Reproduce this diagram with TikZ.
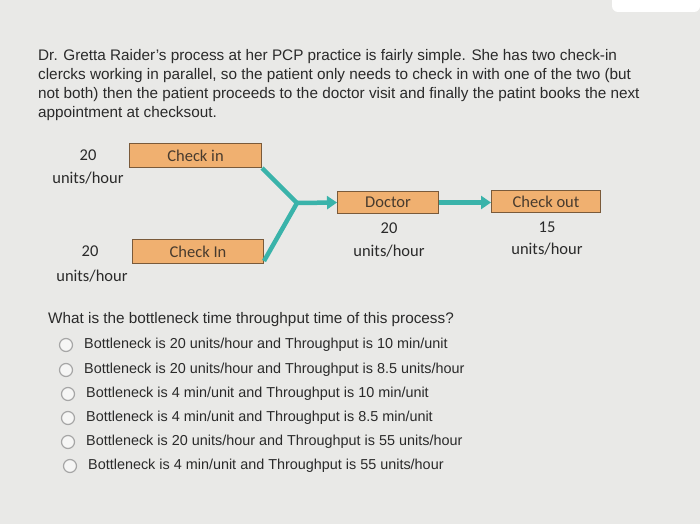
\documentclass[tikz,border=0pt]{standalone}
\usepackage{fontspec}
\setmainfont{Liberation Sans}
\newfontfamily\carlitofont{Carlito}
\usetikzlibrary{arrows.meta}
\definecolor{bg}{HTML}{E9E9E7}
\definecolor{boxfill}{HTML}{F0B070}
\definecolor{boxline}{HTML}{7A5A3A}
\definecolor{teal}{HTML}{3AB3AA}
\definecolor{txt}{HTML}{2A2A2A}
\tikzset{
  stagebox/.style={draw=boxline,fill=boxfill,line width=1pt,anchor=north west,inner sep=0pt,font=\carlitofont\fontsize{16.5}{18}\selectfont,text=txt!80!brown},
  rate/.style={font=\carlitofont\fontsize{16.5}{18}\selectfont,text=txt},
  para/.style={anchor=west,font=\fontsize{15.3}{17}\selectfont,text=txt,inner sep=0pt},
  opttext/.style={anchor=west,font=\fontsize{14.4}{17}\selectfont,text=txt,inner sep=0pt},
  flow/.style={teal,line width=4.5pt},
  opt/.style={draw=gray!70,line width=1.2pt,circle,minimum size=13pt,inner sep=0pt,fill=white!60!bg},
}
\begin{document}
\begin{tikzpicture}[x=1pt,y=-1pt]
\fill[bg] (0,0) rectangle (700,524);
\useasboundingbox (0,0) rectangle (700,524);
\fill[white,rounded corners=6pt] (612,-10) rectangle (700,12);
\node[para] (p1) at (38,57) {Dr. Gretta Raider's process at her PCP practice is fairly simple.  She has two check-in};
\node[para] (p2) at (38,76) {clercks working in parallel, so the patient only needs to check in with one of the two (but};
\node[para] (p3) at (38,95) {not both) then the patient proceeds to the doctor visit and finally the patint books the next};
\node[para] (p4) at (38,114) {appointment at checksout.};
\node[stagebox,minimum width=132pt,minimum height=24pt] (c1) at (129,143) {Check in};
\node[stagebox,minimum width=131pt,minimum height=24pt] (c2) at (132,239) {Check In};
\node[stagebox,minimum width=101pt,minimum height=22pt] (doc) at (337,191) {Doctor};
\node[stagebox,minimum width=109pt,minimum height=22pt] (co) at (491,190) {Check out};
\coordinate (j) at (297,203);
\draw[flow] (c1.south east) -- (j) -- (c2.east |- 0,261);
\draw[flow,-{Triangle[length=10pt,width=13pt]}] (j) -- (doc.west);
\draw[flow,-{Triangle[length=10pt,width=13pt]}] (doc.east) -- (co.west |- doc.east);
\node[rate] (r1) at (88,155) {20};
\node[rate] (r1u) at (88,178) {units/hour};
\node[rate] (r2) at (90,251) {20};
\node[rate] (r2u) at (92,276) {units/hour};
\node[rate] (r3) at (389,228) {20};
\node[rate] (r3u) at (389,251) {units/hour};
\node[rate] (r4) at (547,227) {15};
\node[rate] (r4u) at (547,249) {units/hour};
\node[para] (q) at (48,320) {What is the bottleneck time throughput time of this process?};
\foreach \y/\x/\t [count=\i] in {
 345/84/{Bottleneck is 20 units/hour and Throughput is 10 min/unit},
 370/84/{Bottleneck is 20 units/hour and Throughput is 8.5 units/hour},
 394/86/{Bottleneck is 4 min/unit and Throughput is 10 min/unit},
 418/86/{Bottleneck is 4 min/unit and Throughput is 8.5 min/unit},
 442/86/{Bottleneck is 20 units/hour and Throughput is 55 units/hour},
 466/88/{Bottleneck is 4 min/unit and Throughput is 55 units/hour}} {
  \node[opt] (o\i) at (\x-18,\y) {};
  \node[opttext] (a\i) at (\x,\y) {\t};
}
\end{tikzpicture}
\end{document}
